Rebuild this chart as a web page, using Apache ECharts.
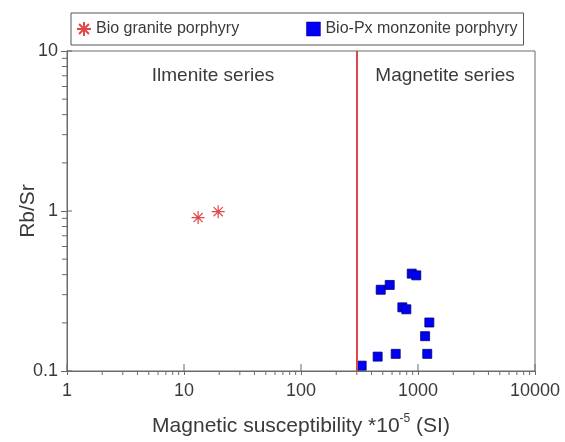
<!DOCTYPE html>
<html>
<head>
<meta charset="utf-8">
<script src="https://cdn.jsdelivr.net/npm/echarts@6/dist/echarts.min.js"></script>
<style>
html,body{margin:0;padding:0;background:#fff;}
#chart{width:565px;height:442px;}
</style>
</head>
<body>
<div id="chart"></div>
<script>
// ---- data ----
var seriesNames = ['Bio granite porphyry', 'Bio-Px monzonite porphyry'];
// Bio granite porphyry: [magnetic susceptibility, Rb/Sr]
var bioGranite = [[13.2, 0.91], [19.6, 0.99]];
// Bio-Px monzonite porphyry
var bioPxMonzonite = [
  [330, 0.108], [452, 0.123], [645, 0.128], [1200, 0.128],
  [1150, 0.165], [1250, 0.201], [735, 0.250], [795, 0.243],
  [480, 0.322], [573, 0.345], [884, 0.406], [967, 0.396]
];
var boundaryX = 300;
var regionLabels = ['Ilmenite series', 'Magnetite series'];
var xMajorTicks = [1, 10, 100, 1000, 10000];
var yMajorTicks = [0.1, 1, 10];
var xMinorTicks = [2,3,4,5,6,7,8,9,20,30,40,50,60,70,80,90,200,300,400,500,600,700,800,900,2000,3000,4000,5000,6000,7000,8000,9000];
var yMinorTicks = [0.2,0.3,0.4,0.5,0.6,0.7,0.8,0.9,2,3,4,5,6,7,8,9];
var xRange = [1, 10000];
var yRange = [0.1, 10];

// ---- chart ----
var FONT = '"Liberation Sans", Arial, sans-serif';
var TXT = '#3a3a3a';
var AX = '#6a6a6a';
var chart = echarts.init(document.getElementById('chart'), null, {renderer: 'canvas'});

var asterisk = 'path://M0,-10 L0,10 M-10,0 L10,0 M-7.07,-7.07 L7.07,7.07 M-7.07,7.07 L7.07,-7.07';

function tickSeries(values, isX, outLen, inLen) {
  return {
    type: 'custom',
    silent: true,
    clip: false,
    z: 5,
    data: values.map(function (v) { return isX ? [v, yRange[0]] : [xRange[0], v]; }),
    renderItem: function (params, api) {
      var p = api.coord([api.value(0), api.value(1)]);
      var shape = isX
        ? {x1: p[0], y1: p[1] - inLen, x2: p[0], y2: p[1] + outLen}
        : {x1: p[0] - outLen, y1: p[1], x2: p[0] + inLen, y2: p[1]};
      return {type: 'line', shape: shape, style: {stroke: AX, lineWidth: 1}};
    }
  };
}

function fmt(v) { return String(+v.toPrecision(6)); }

var option = {
  animation: false,
  backgroundColor: '#fff',
  grid: {left: 67, right: 30, top: 51, bottom: 71, show: true, borderColor: AX, borderWidth: 1, backgroundColor: 'transparent'},
  legend: {
    left: 71, top: 13,
    padding: [8, 6, 8, 5],
    itemGap: 67,
    itemWidth: 14, itemHeight: 14,
    borderColor: '#555', borderWidth: 1,
    textStyle: {fontFamily: FONT, fontSize: 16, color: TXT},
    data: [
      {name: seriesNames[0]},
      {name: seriesNames[1], itemStyle: {color: '#0000f5', borderColor: '#00007a', borderWidth: 0.5}}
    ]
  },
  xAxis: {
    type: 'log', logBase: 10, min: xRange[0], max: xRange[1],
    name: '{a|Magnetic susceptibility *10}{b|-5}{a| (SI)}',
    nameLocation: 'middle', nameGap: 42, nameMoveOverlap: false,
    nameTextStyle: {
      rich: {
        a: {fontFamily: FONT, fontSize: 21, color: TXT, lineHeight: 26},
        b: {fontFamily: FONT, fontSize: 12, color: TXT, lineHeight: 26, verticalAlign: 'top', padding: [0, 0, 8, 0]}
      }
    },
    axisLine: {show: true, lineStyle: {color: AX}},
    axisTick: {show: true, inside: false, length: 4, lineStyle: {color: AX}},
    axisLabel: {fontFamily: FONT, fontSize: 18, color: TXT, margin: 11, formatter: fmt},
    splitLine: {show: false}
  },
  yAxis: {
    type: 'log', logBase: 10, min: yRange[0], max: yRange[1],
    name: 'Rb/Sr', nameLocation: 'middle', nameGap: 28, nameRotate: 90, nameMoveOverlap: false,
    nameTextStyle: {fontFamily: FONT, fontSize: 21, color: TXT},
    axisLine: {show: true, lineStyle: {color: AX}},
    axisTick: {show: true, inside: false, length: 6, lineStyle: {color: AX}},
    axisLabel: {fontFamily: FONT, fontSize: 18, color: TXT, margin: 9, formatter: fmt},
    splitLine: {show: false}
  },
  graphic: [
    {type: 'text', x: 213, y: 76, style: {text: regionLabels[0], font: '19px ' + FONT, fill: TXT, textAlign: 'center', textVerticalAlign: 'middle'}},
    {type: 'text', x: 445, y: 76, style: {text: regionLabels[1], font: '19px ' + FONT, fill: TXT, textAlign: 'center', textVerticalAlign: 'middle'}}
  ],
  series: [
    {
      name: seriesNames[0], type: 'scatter',
      symbol: asterisk, symbolSize: 13,
      itemStyle: {color: 'rgba(0,0,0,0)', borderColor: '#e04848', borderWidth: 1.2, opacity: 1},
      data: bioGranite, z: 3
    },
    {
      name: seriesNames[1], type: 'scatter',
      symbol: 'rect', symbolSize: 9,
      itemStyle: {color: '#0000f5', borderColor: '#00007a', borderWidth: 0.8, opacity: 1},
      data: bioPxMonzonite, z: 3,
      markLine: {
        silent: true, symbol: ['none', 'none'],
        label: {show: false},
        lineStyle: {color: '#d9474c', width: 2, type: 'solid'},
        data: [{xAxis: boundaryX}]
      }
    },
    tickSeries(xMinorTicks, true, 4, 0),
    tickSeries(yMinorTicks, false, 5, 0),
    tickSeries(xMajorTicks, true, 0, 7),
    tickSeries(yMajorTicks, false, 0, 5)
  ]
};
chart.setOption(option);
</script>
</body>
</html>
